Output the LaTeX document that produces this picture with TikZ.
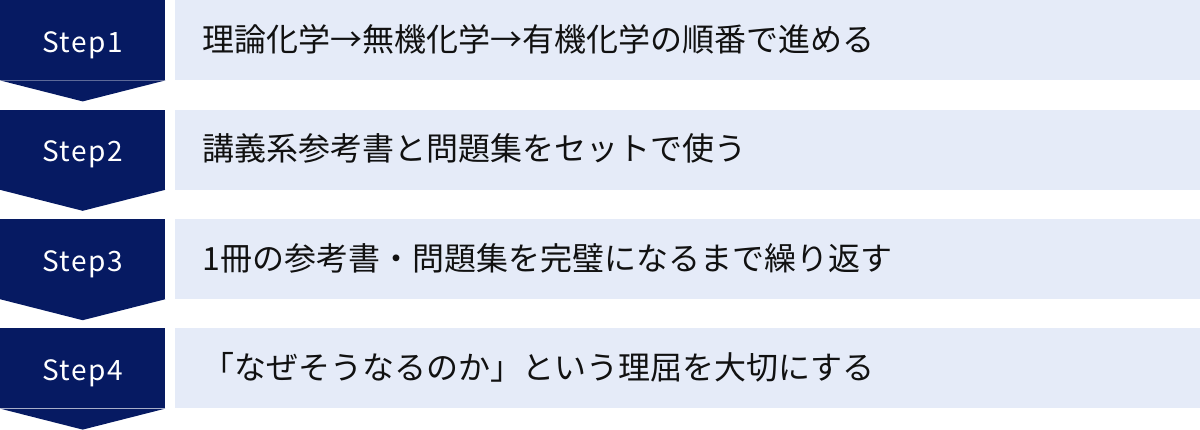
\documentclass[tikz,border=0pt]{standalone}
\usepackage{fontspec}
\setmainfont{Noto Sans CJK JP}
\newfontfamily\stepfont[LetterSpace=5]{Noto Sans CJK JP}
\usetikzlibrary{positioning,calc}

\definecolor{navy}{HTML}{061A62}
\definecolor{pale}{HTML}{E5EBF8}
\definecolor{ink}{HTML}{111111}

\begin{document}
\begin{tikzpicture}[x=1pt,y=1pt,node distance=29pt and 9pt,
		stepbox/.style={fill=navy,text=white,minimum width=165pt,minimum height=80pt,inner sep=0pt,text height=24pt,text depth=0pt,font=\stepfont\fontsize{28}{34}\selectfont},
		bar/.style={fill=pale,text=ink,minimum width=1026pt,minimum height=80pt,text width=970pt,inner xsep=28pt,inner ysep=0pt,text height=22pt,text depth=0pt,align=left,font=\fontsize{32}{38}\selectfont}]
		\useasboundingbox (0,0) rectangle (1200,-429);
		\node[stepbox,anchor=north west] (s_1) at (0,0) {Step1};
		\node[stepbox] [below=of s_1] (s_2) {Step2};
		\node[stepbox] [below=of s_2] (s_3) {Step3};
		\node[stepbox] [below=of s_3] (s_4) {Step4};
		\node[bar] [right=of s_1] (b_1) {理論化学→無機化学→有機化学の順番で進める};
		\node[bar] [right=of s_2] (b_2) {講義系参考書と問題集をセットで使う};
		\node[bar] [right=of s_3] (b_3) {1冊の参考書・問題集を完璧になるまで繰り返す};
		\node[bar] [right=of s_4] (b_4) {「なぜそうなるのか」という理屈を大切にする};
		% chevrons under the step boxes
		\fill[navy] (s_1.south west) -- (s_1.south east) -- ($(s_1.south)+(0,-21)$) -- cycle;
		\fill[navy] (s_2.south west) -- (s_2.south east) -- ($(s_2.south)+(0,-21)$) -- cycle;
		\fill[navy] (s_3.south west) -- (s_3.south east) -- ($(s_3.south)+(0,-21)$) -- cycle;
		\fill[navy] (s_4.south west) -- (s_4.south east) -- ($(s_4.south)+(0,-21)$) -- cycle;
	\end{tikzpicture}
\end{document}
